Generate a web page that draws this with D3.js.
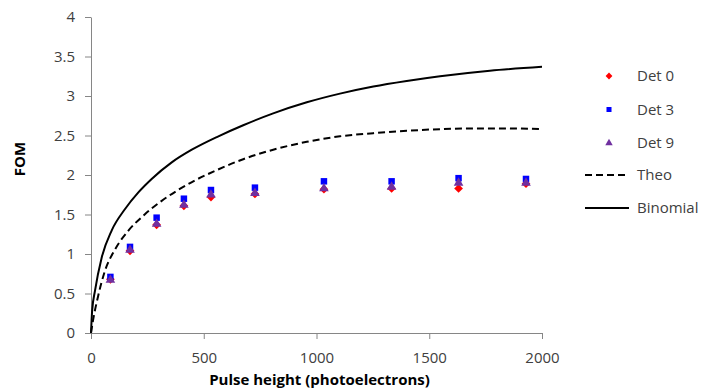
<!DOCTYPE html>
<html>
<head>
<meta charset="utf-8">
<script src="https://cdn.jsdelivr.net/npm/d3@7"></script>
<style>
  body { margin: 0; background: #fff; }
  svg text { font-family: "Open Sans", sans-serif; fill: #404040; }
  .axis path, .axis line { stroke: #868686; }
</style>
</head>
<body>
<div id="graph"></div>
<script>
// measured points (x = pulse height, y = FOM)
const pulseX = [86, 173, 291, 412, 532, 727, 1033, 1333, 1630, 1929];
const det0 = [0.68, 1.04, 1.37, 1.61, 1.72, 1.76, 1.82, 1.83, 1.83, 1.89];
const det3 = [0.71, 1.09, 1.46, 1.70, 1.81, 1.84, 1.92, 1.92, 1.96, 1.95];
const det9 = [0.67, 1.05, 1.38, 1.62, 1.75, 1.77, 1.83, 1.85, 1.90, 1.90];

// curves
const binomialX = [0, 5, 18, 47, 92, 151, 210, 269, 358, 447, 565, 675, 808, 957, 1104, 1252, 1400, 1548, 1769, 2000];
const binomial = [0, 0.28, 0.54, 0.95, 1.30, 1.57, 1.78, 1.95, 2.16, 2.32, 2.49, 2.63, 2.78, 2.92, 3.03, 3.12, 3.19, 3.25, 3.32, 3.37];
const theoX = [0, 9, 31, 61, 105, 164, 238, 312, 386, 460, 556, 675, 808, 957, 1104, 1252, 1400, 1548, 1700, 1850, 2000];
const theo = [0, 0.16, 0.46, 0.78, 1.05, 1.29, 1.50, 1.67, 1.81, 1.93, 2.06, 2.20, 2.32, 2.42, 2.49, 2.53, 2.56, 2.58, 2.59, 2.59, 2.58];

const xTicks = [0, 500, 1000, 1500, 2000];
const yTicks = [0, 0.5, 1, 1.5, 2, 2.5, 3, 3.5, 4];

const W = 704, H = 392;
const margin = { top: 17, right: 162, bottom: 59, left: 91 };
const width = W - margin.left - margin.right,
  height = H - margin.top - margin.bottom;

const svg = d3.select("#graph").append("svg")
  .attr("width", W).attr("height", H);

const g = svg.append("g")
  .attr("transform", "translate(" + margin.left + "," + margin.top + ")");

const x = d3.scaleLinear().domain([0, 2000]).range([0, width]);
const y = d3.scaleLinear().domain([0, 4]).range([height, 0]);

// axes
g.append("g").attr("class", "axis")
  .attr("transform", "translate(0," + height + ")")
  .call(d3.axisBottom(x).tickValues(xTicks).tickFormat(d => d).tickSize(6).tickPadding(13).tickSizeOuter(0));
g.append("g").attr("class", "axis")
  .call(d3.axisLeft(y).tickValues(yTicks).tickFormat(d => d).tickSize(6).tickPadding(10).tickSizeOuter(0));
g.selectAll(".axis text").style("font-size", "15px").style("fill", "#404040")
  .style("font-family", "'Open Sans', sans-serif");

// axis titles
g.append("text")
  .attr("x", width / 2 + 3).attr("y", height + 52)
  .attr("text-anchor", "middle")
  .style("font-size", "15px").style("font-weight", "bold").style("fill", "#000")
  .text("Pulse height (photoelectrons)");
g.append("text")
  .attr("transform", "rotate(-90)")
  .attr("x", -(height / 2) + 16).attr("y", -66)
  .attr("text-anchor", "middle")
  .style("font-size", "15px").style("font-weight", "bold").style("fill", "#000")
  .text("FOM");

// lines
const line = d3.line()
  .x(d => x(d[0])).y(d => y(d[1]))
  .curve(d3.curveMonotoneX);

g.append("path")
  .datum(theoX.map((v, i) => [v, theo[i]]))
  .attr("d", line)
  .attr("fill", "none").attr("stroke", "#000").attr("stroke-width", 2)
  .attr("stroke-dasharray", "7,4");
g.append("path")
  .datum(binomialX.map((v, i) => [v, binomial[i]]))
  .attr("d", line)
  .attr("fill", "none").attr("stroke", "#000").attr("stroke-width", 2);

// markers (diamond = square turned 45deg)
const series = [
  { name: "Det 0", vals: det0, sym: d3.symbolSquare, rot: 45, size: 38, color: "#ff0000" },
  { name: "Det 3", vals: det3, sym: d3.symbolSquare, rot: 0, size: 42, color: "#0000ff" },
  { name: "Det 9", vals: det9, sym: d3.symbolTriangle, rot: 0, size: 40, color: "#7030a0" }
];

series.forEach(function (s) {
  g.append("g").selectAll("path")
    .data(pulseX.map((v, i) => [v, s.vals[i]]))
    .enter().append("path")
    .attr("transform", d => "translate(" + x(d[0]) + "," + y(d[1]) + ") rotate(" + s.rot + ")")
    .attr("d", d3.symbol().type(s.sym).size(s.size))
    .attr("fill", s.color);
});

// legend
const legend = svg.append("g");
series.forEach(function (s, i) {
  const ly = 76 + i * 33.5;
  legend.append("path")
    .attr("transform", "translate(609," + ly + ") rotate(" + s.rot + ")")
    .attr("d", d3.symbol().type(s.sym).size(s.size * 0.6))
    .attr("fill", s.color);
  legend.append("text")
    .attr("x", 637).attr("y", ly).attr("dy", "0.35em")
    .style("font-size", "15px")
    .text(s.name);
});
[["Theo", "7,4"], ["Binomial", null]].forEach(function (l, i) {
  const ly = 175 + i * 33;
  legend.append("line")
    .attr("x1", 585).attr("x2", 629).attr("y1", ly).attr("y2", ly)
    .attr("stroke", "#000").attr("stroke-width", 2)
    .attr("stroke-dasharray", l[1]);
  legend.append("text")
    .attr("x", 637).attr("y", ly).attr("dy", "0.35em")
    .style("font-size", "15px")
    .text(l[0]);
});
</script>
</body>
</html>
